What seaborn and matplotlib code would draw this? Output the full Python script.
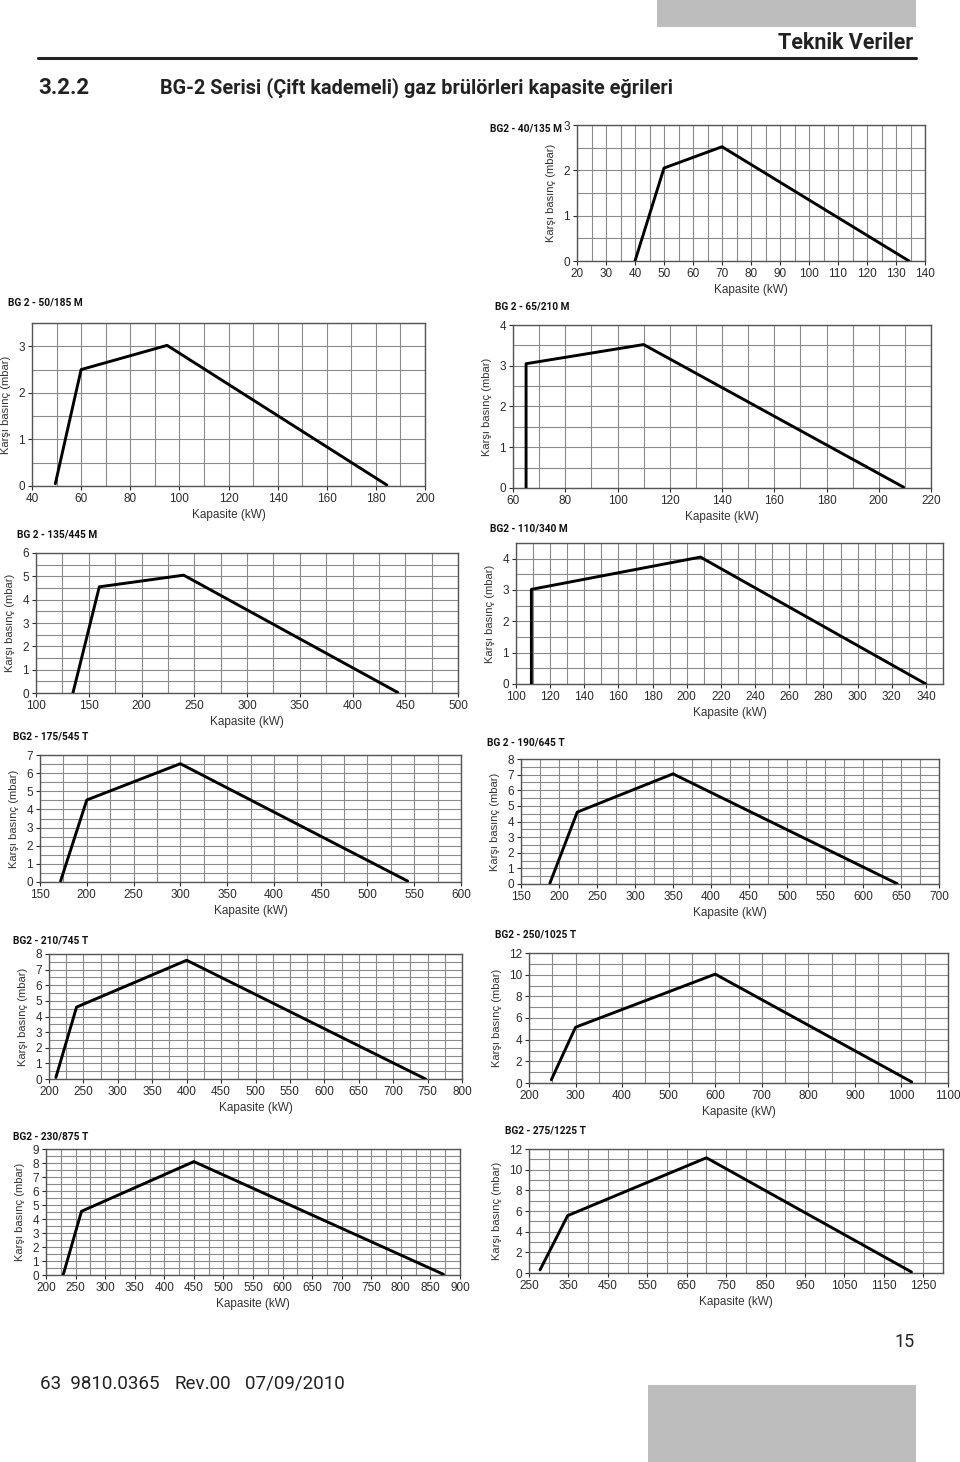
import matplotlib
matplotlib.use('Agg')

import numpy as np
import pandas as pd
import seaborn as sns
import matplotlib.pyplot as plt
from matplotlib.patches import Rectangle
from matplotlib.lines import Line2D

W, H = 960, 1462

# capacity curves (kW, mbar)
kw_40_135 = [40, 50, 70, 134.5]
mbar_40_135 = [0, 2.05, 2.52, 0]
kw_50_185 = [49.5, 60, 95, 184.5]
mbar_50_185 = [0.05, 2.5, 3.02, 0.02]
kw_65_210 = [65, 65, 110, 209.5]
mbar_65_210 = [0, 3.05, 3.52, 0.02]
kw_135_445 = [135, 160, 240, 443]
mbar_135_445 = [0, 4.55, 5.05, 0.02]
kw_110_340 = [109, 109, 208, 340]
mbar_110_340 = [0, 3.02, 4.05, 0]
kw_175_545 = [172, 200, 300, 543]
mbar_175_545 = [0.05, 4.52, 6.52, 0.05]
kw_190_645 = [188, 224, 350, 645]
mbar_190_645 = [0.05, 4.6, 7.05, 0.02]
kw_210_745 = [210, 240, 400, 747]
mbar_210_745 = [0.1, 4.6, 7.6, 0]
kw_250_1025 = [248, 300, 600, 1022]
mbar_250_1025 = [0.3, 5.15, 10.05, 0.1]
kw_230_875 = [229, 260, 450, 872]
mbar_230_875 = [0, 4.55, 8.1, 0.05]
kw_275_1225 = [278, 348, 700, 1220]
mbar_275_1225 = [0.3, 5.55, 11.15, 0.1]

titles = ['BG2 - 40/135 M', 'BG 2 - 50/185 M', 'BG 2 - 65/210 M', 'BG 2 - 135/445 M',
          'BG2 - 110/340 M', 'BG2 - 175/545 T', 'BG 2 - 190/645 T', 'BG2 - 210/745 T',
          'BG2 - 250/1025 T', 'BG2 - 230/875 T', 'BG2 - 275/1225 T']

# (title, kw, mbar, axes box px (l, t, r, b), title pos px, x (min, max, tick, grid), y (max, tick, grid))
panels = [
    (titles[0], kw_40_135, mbar_40_135, (577, 125, 925, 261), (490, 129), (20, 140, 10, 5), (3, 1, 0.5)),
    (titles[1], kw_50_185, mbar_50_185, (32, 323, 425, 486), (8, 302), (40, 200, 20, 10), (3.5, 1, 0.5)),
    (titles[2], kw_65_210, mbar_65_210, (513, 325, 931, 488), (495, 306), (60, 220, 20, 10), (4, 1, 0.5)),
    (titles[3], kw_135_445, mbar_135_445, (36, 553, 458, 693), (17, 535), (100, 500, 50, 25), (6, 1, 0.5)),
    (titles[4], kw_110_340, mbar_110_340, (516, 543, 943, 684), (490, 529), (100, 350, 20, 10), (4.5, 1, 0.5)),
    (titles[5], kw_175_545, mbar_175_545, (40, 755, 461, 882), (13, 737), (150, 600, 50, 25), (7, 1, 0.5)),
    (titles[6], kw_190_645, mbar_190_645, (521, 759, 939, 884), (487, 742), (150, 700, 50, 25), (8, 1, 0.5)),
    (titles[7], kw_210_745, mbar_210_745, (49, 954, 462, 1079), (13, 940), (200, 800, 50, 25), (8, 1, 0.5)),
    (titles[8], kw_250_1025, mbar_250_1025, (529, 953, 948, 1083), (495, 935), (200, 1100, 100, 50), (12, 2, 1)),
    (titles[9], kw_230_875, mbar_230_875, (46, 1149, 460, 1275), (13, 1136), (200, 900, 50, 25), (9, 1, 0.5)),
    (titles[10], kw_275_1225, mbar_275_1225, (529, 1149, 943, 1273), (505, 1131), (250, 1300, 100, 50), (12, 2, 1)),
]

sns.set_theme(style='white')
plt.rcParams['font.family'] = ['Liberation Sans', 'DejaVu Sans']
NARROW = ['Roboto', 'DejaVu Sans']

fig = plt.figure(figsize=(W / 100, H / 100), dpi=100)
fig.patch.set_facecolor('white')


def px_axes(l, t, r, b):
    return fig.add_axes([l / W, 1 - b / H, (r - l) / W, (b - t) / H])


def ptext(x, y, s, **kw):
    fig.text(x / W, 1 - y / H, s, **kw)


for title, kw, mbar, box, tpos, xs, ys in panels:
    ax = px_axes(*box)
    xmin, xmax, xtick, xgrid = xs
    ymax, ytick, ygrid = ys

    for gx in np.arange(xmin, xmax + 1e-9, xgrid):
        ax.axvline(gx, color='#8a8a8a', lw=0.8, zorder=1)
    for gy in np.arange(0, ymax + 1e-9, ygrid):
        ax.axhline(gy, color='#8a8a8a', lw=0.8, zorder=1)

    df = pd.DataFrame({'kw': kw, 'mbar': mbar})
    sns.lineplot(data=df, x='kw', y='mbar', ax=ax, color='black', lw=2.1,
                 sort=False, estimator=None, zorder=3)

    ax.set_xlim(xmin, xmax)
    ax.set_ylim(0, ymax)
    xt = np.arange(xmin, xmax + 1e-9, xtick)
    ax.set_xticks(xt)
    ax.set_xticklabels([f'{v:g}' for v in xt])
    yt = np.arange(0, np.floor(ymax) + 1e-9, ytick)
    ax.set_yticks(yt)
    ax.set_yticklabels([f'{v:g}' for v in yt])
    ax.tick_params(axis='both', labelsize=8.5, colors='#2a2a2a', length=3, width=0.8,
                   direction='out', pad=2, bottom=True, left=True)
    for s in ax.spines.values():
        s.set_color('#555555')
        s.set_linewidth(1.0)
    ax.set_xlabel('Kapasite (kW)', fontsize=8.5, color='#333333', labelpad=3)
    ax.set_ylabel('Karşı basınç (mbar)', fontsize=8, color='#333333', labelpad=5)
    ptext(tpos[0], tpos[1], title, fontsize=7.3, fontweight='bold', family=NARROW,
          va='center', ha='left', color='#111111')

# page header and footer
fig.patches.append(Rectangle((657 / W, 1 - 27 / H), 259 / W, 27 / H, transform=fig.transFigure,
                             facecolor='#bdbdbd', edgecolor='none'))
fig.lines.append(Line2D([38 / W, 916 / W], [1 - 58 / H, 1 - 58 / H], transform=fig.transFigure,
                        color='#222222', lw=2.2))
ptext(913, 43, 'Teknik Veriler', fontsize=15.5, fontweight='bold', family=NARROW,
      ha='right', va='center', color='#222222')
ptext(38, 88, '3.2.2', fontsize=16, fontweight='bold', family=NARROW, ha='left', va='center',
      color='#222222')
ptext(160, 88, 'BG-2 Serisi (Çift kademeli) gaz brülörleri kapasite eğrileri', fontsize=14.3,
      fontweight='bold', family=NARROW, ha='left', va='center', color='#222222')

ptext(905, 1342, '15', fontsize=13, family=NARROW, ha='center', va='center', color='#222222')
ptext(40, 1384, '63  9810.0365', fontsize=13.5, family=NARROW, ha='left', va='center', color='#222222')
ptext(175, 1384, 'Rev.00', fontsize=13.5, family=NARROW, ha='left', va='center', color='#222222')
ptext(245, 1384, '07/09/2010', fontsize=13.5, family=NARROW, ha='left', va='center', color='#222222')
fig.patches.append(Rectangle((648 / W, 0), 268 / W, 77 / H, transform=fig.transFigure,
                             facecolor='#bdbdbd', edgecolor='none'))

plt.savefig('out.png', dpi=100)
plt.close('all')
